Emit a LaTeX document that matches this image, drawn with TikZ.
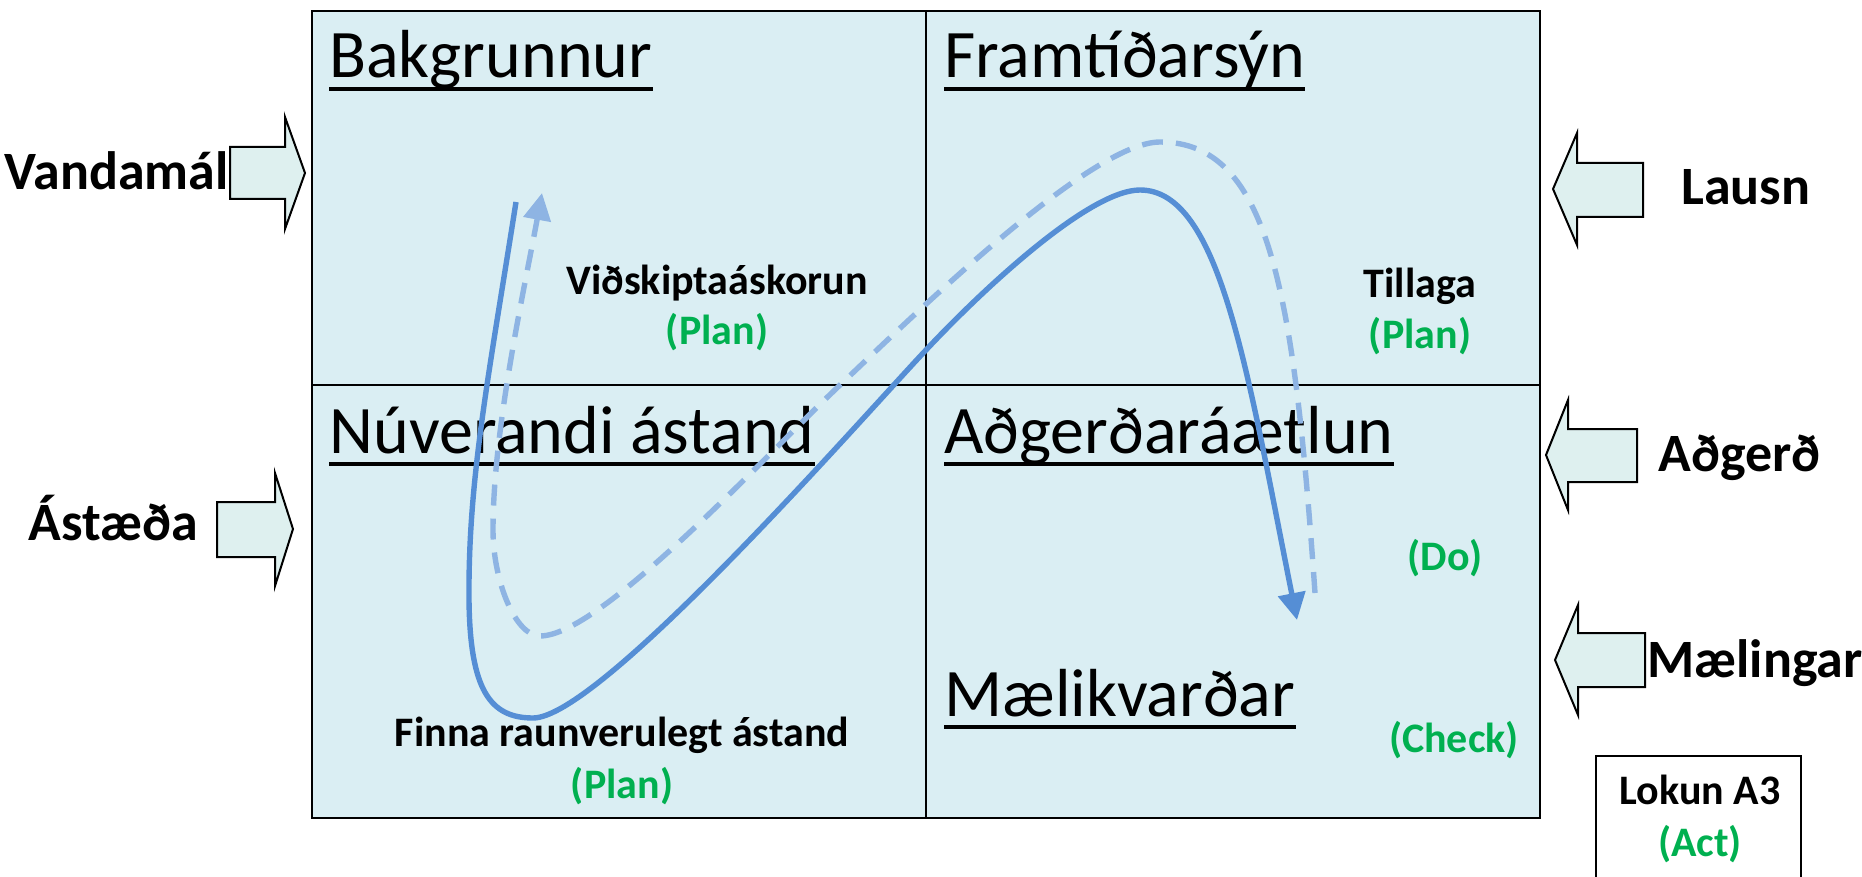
\documentclass[tikz,border=0pt]{standalone}
\usepackage{fontspec}
\setmainfont{Carlito}
\usetikzlibrary{arrows.meta}
\definecolor{cellbg}{RGB}{218,238,243}
\definecolor{arrowbg}{RGB}{222,240,239}
\definecolor{solidblue}{RGB}{85,142,213}
\definecolor{dashblue}{RGB}{142,180,227}
\definecolor{pgreen}{RGB}{0,176,80}
\tikzset{
  cell/.style={fill=cellbg, draw=black, line width=0.75pt},
  divider/.style={draw=black, line width=0.75pt},
  blockarrow/.style={fill=arrowbg, draw=black, line width=1pt, line join=miter},
  heading/.style={anchor=base west, inner sep=0pt, font=\fontsize{34}{40}\selectfont},
  uline/.style={line width=2.4pt},
  sidelabel/.style={inner sep=0pt, font=\fontsize{27}{32}\selectfont\bfseries},
  smalllabel/.style={anchor=base, inner sep=0pt, font=\fontsize{21}{25}\selectfont\bfseries},
  phase/.style={smalllabel, text=pgreen},
  flow/.style={line width=2.7pt, draw=solidblue, -{Triangle[length=13.5pt,width=13.5pt]}},
  flowdash/.style={line width=2.7pt, draw=dashblue, dash pattern=on 10.5pt off 6.5pt, -{Triangle[length=13.5pt,width=13.5pt]}},
  boxline/.style={draw=black, line width=1pt}
}
\begin{document}
\begin{tikzpicture}[x=0.5pt,y=-0.5pt]
\useasboundingbox (0,0) rectangle (1862,877);
% main grid
\draw[cell] (312,11) rectangle (1540,818);
\draw[divider] (926,11) -- (926,818);
\draw[divider] (312,385) -- (1540,385);

% headings
\node[heading] (h1) at (329,78) {Bakgrunnur};
\node[heading] (h2) at (944,78) {Framtíðarsýn};
\node[heading] (h3) at (329,453) {Núverandi ástand};
\node[heading] (h4) at (944,453) {Aðgerðaráætlun};
\node[heading] (h5) at (944,716) {Mælikvarðar};
\foreach \h in {h1,h2,h3,h4,h5}{
  \draw[uline] ([yshift=-5.5pt]\h.base west) -- ([yshift=-5.5pt]\h.base east);
}

% small labels
\node[smalllabel] (vid) at (717,294) {Viðskiptaáskorun};
\node[phase] (plan1) at (717,344) {(Plan)};
\node[smalllabel] (till) at (1420,297) {Tillaga};
\node[phase] (plan2) at (1420,348) {(Plan)};
\node[phase] (do) at (1445,570) {(Do)};
\node[phase] (check) at (1454,752) {(Check)};
\node[smalllabel] (finna) at (622,746) {Finna raunverulegt ástand};
\node[phase] (plan3) at (622,798) {(Plan)};

% Lokun box
\path[boxline] (1596,877) -- (1596,756) -- (1801,756) -- (1801,877);
\node[smalllabel] (lokun) at (1700,804) {Lokun A3};
\node[phase] (act) at (1700,856) {(Act)};

% side block arrows
\draw[blockarrow] (230,147) -- (285,147) -- (285,117) -- (305,173) -- (285,229) -- (285,199) -- (230,199) -- cycle;
\draw[blockarrow] (217,502) -- (275,502) -- (275,473) -- (293,529) -- (275,586) -- (275,557) -- (217,557) -- cycle;
\draw[blockarrow] (1643,163) -- (1577,163) -- (1577,133) -- (1553,189) -- (1577,245) -- (1577,217) -- (1643,217) -- cycle;
\draw[blockarrow] (1637,429) -- (1568,429) -- (1568,400) -- (1546,455) -- (1568,510) -- (1568,482) -- (1637,482) -- cycle;
\draw[blockarrow] (1645,633) -- (1578,633) -- (1578,605) -- (1555,660) -- (1578,715) -- (1578,687) -- (1645,687) -- cycle;

% side labels
\node[sidelabel, anchor=base east] (vand) at (229,190) {Vandamál};
\node[sidelabel, anchor=base west] (ast) at (28,540) {Ástæða};
\node[sidelabel, anchor=base west] (lausn) at (1681,205) {Lausn};
\node[sidelabel, anchor=base west] (adg) at (1658,471) {Aðgerð};
\node[sidelabel, anchor=base west] (mael) at (1647,677) {Mælingar};

% solid flow curve
\coordinate (s0) at (516,202);
\coordinate (s1) at (469,600);
\coordinate (s2) at (533,718);
\coordinate (s3) at (926,350);
\coordinate (s4) at (1140,190);
\coordinate (s5) at (1297,620);
\draw[flow] (s0) .. controls (488,380) and (468,480) .. (s1)
  .. controls (470,690) and (490,718) .. (s2)
  .. controls (600,718) and (860,420) .. (s3)
  .. controls (986,286) and (1090,190) .. (s4)
  .. controls (1220,190) and (1247,370) .. (s5);

% dashed flow curve
\coordinate (d0) at (1315,593);
\coordinate (d1) at (1160,142);
\coordinate (d2) at (840,385);
\coordinate (d3) at (540,636);
\coordinate (d4) at (493,530);
\coordinate (d5) at (542,193);
\draw[flowdash] (d0) .. controls (1294,293) and (1270,142) .. (d1)
  .. controls (1090,142) and (910,319) .. (d2)
  .. controls (760,461) and (600,636) .. (d3)
  .. controls (515,636) and (493,580) .. (d4)
  .. controls (493,430) and (523.5,293) .. (d5);
\end{tikzpicture}
\end{document}
